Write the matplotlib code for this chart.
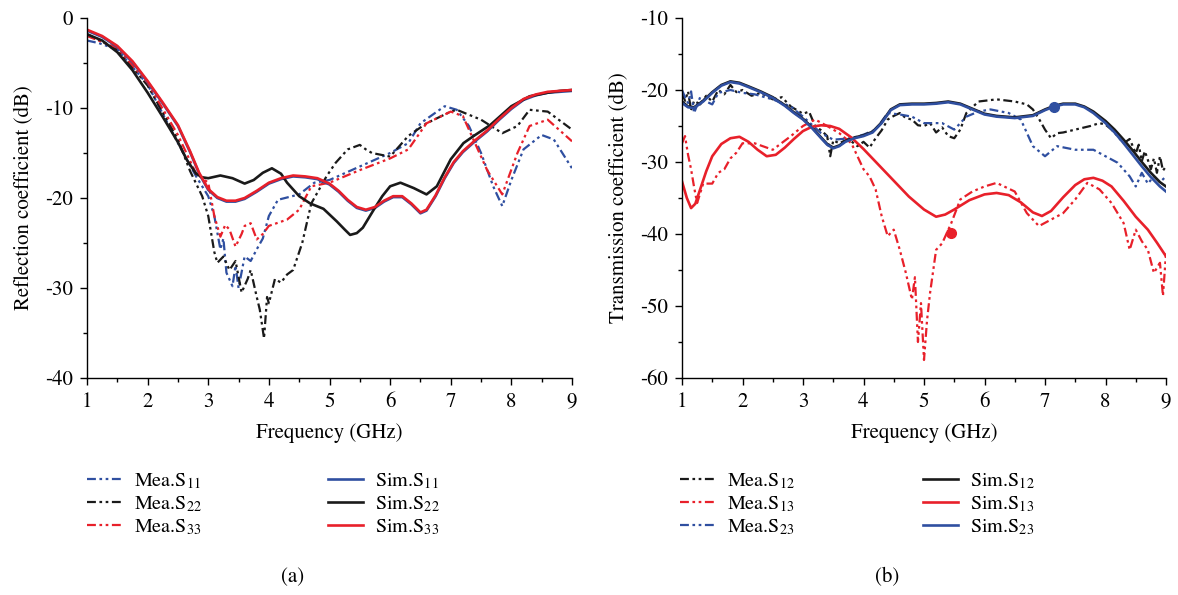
import matplotlib
matplotlib.use("Agg")
import matplotlib.pyplot as plt
from matplotlib.ticker import MultipleLocator

plt.rcParams['font.family'] = ['STIXGeneral', 'DejaVu Serif']
plt.rcParams['mathtext.fontset'] = 'stix'
plt.rcParams['axes.unicode_minus'] = False

BLUE = '#2f4fa0'
BLACK = '#1a1a1a'
RED = '#e8202a'

# ---------------- (a) reflection ----------------
sim33_x = [1.0, 1.25, 1.5, 1.75, 2.0, 2.25, 2.5, 2.7, 2.85, 3.0, 3.15, 3.3, 3.45, 3.6, 3.8, 4.0, 4.2, 4.4, 4.6, 4.8, 5.0, 5.15, 5.3, 5.45, 5.6, 5.75, 5.9, 6.05, 6.2, 6.35, 6.5, 6.6, 6.75, 6.9, 7.05, 7.2, 7.4, 7.6, 7.8, 8.0, 8.2, 8.4, 8.6, 8.8, 9.0]
sim33_y = [-1.3, -2.0, -3.1, -4.8, -7.0, -9.4, -11.9, -14.8, -17.2, -19.0, -19.9, -20.3, -20.3, -20.0, -19.2, -18.3, -17.8, -17.5, -17.6, -17.8, -18.4, -19.2, -20.2, -21.0, -21.3, -21.0, -20.3, -19.8, -19.8, -20.6, -21.6, -21.3, -19.7, -17.7, -16.0, -14.8, -13.6, -12.5, -11.2, -10.0, -9.0, -8.5, -8.2, -8.1, -8.0]
sim11_x = sim33_x
sim11_y = [-1.4, -2.1, -3.2, -4.9, -7.1, -9.5, -12.0, -14.9, -17.3, -19.1, -20.0, -20.4, -20.4, -20.1, -19.3, -18.4, -17.9, -17.6, -17.7, -17.9, -18.5, -19.3, -20.3, -21.1, -21.4, -21.1, -20.4, -19.9, -19.9, -20.7, -21.7, -21.4, -19.8, -17.8, -16.1, -14.9, -13.7, -12.6, -11.3, -10.1, -9.1, -8.6, -8.3, -8.2, -8.1]

sim22_x = [1.0, 1.25, 1.5, 1.75, 2.0, 2.25, 2.5, 2.65, 2.8, 2.9, 3.0, 3.2, 3.4, 3.6, 3.75, 3.9, 4.05, 4.2, 4.3, 4.5, 4.68, 4.9, 5.12, 5.25, 5.34, 5.45, 5.55, 5.73, 5.87, 6.0, 6.17, 6.39, 6.6, 6.77, 6.9, 7.0, 7.21, 7.38, 7.65, 8.0, 8.3, 8.6, 8.8, 9.0]
sim22_y = [-1.8, -2.5, -3.8, -5.8, -8.3, -11.0, -13.8, -15.8, -17.3, -17.7, -17.8, -17.5, -17.8, -18.4, -18.0, -17.2, -16.7, -17.3, -18.3, -19.8, -20.6, -21.2, -22.6, -23.5, -24.1, -23.9, -23.3, -21.3, -19.8, -18.7, -18.3, -18.9, -19.6, -18.7, -17.0, -15.7, -13.9, -13.1, -11.9, -9.8, -8.7, -8.3, -8.1, -8.0]

mea11_x = [1, 1.2, 1.5, 2, 2.5, 2.8, 3, 3.1, 3.2, 3.25, 3.3, 3.4, 3.45, 3.5, 3.6, 3.7, 3.8, 3.9, 4, 4.15, 4.5, 4.75, 5, 5.5, 6, 6.3, 6.5, 6.9, 7.1, 7.3, 7.5, 7.7, 7.85, 8, 8.2, 8.5, 8.7, 9]
mea11_y = [-2.5, -2.8, -3.5, -7.4, -13.9, -17.6, -19.8, -22.0, -25.7, -24.5, -28.3, -29.8, -27.5, -30.0, -26.5, -27.0, -25.7, -24.5, -22.0, -20.2, -19.6, -18.3, -18.0, -16.5, -15.0, -13.9, -11.7, -9.8, -10.2, -12.0, -15.0, -18.7, -20.9, -18.0, -14.6, -13.0, -13.5, -16.7]

mea22_x = [1, 1.5, 2, 2.5, 2.7, 2.9, 3.0, 3.1, 3.15, 3.25, 3.35, 3.45, 3.55, 3.65, 3.7, 3.8, 3.85, 3.92, 3.97, 4.0, 4.1, 4.2, 4.3, 4.4, 4.55, 4.7, 4.95, 5.1, 5.3, 5.5, 5.6, 5.7, 6.0, 6.3, 6.6, 7.0, 7.1, 7.5, 7.85, 8.1, 8.3, 8.6, 9]
mea22_y = [-1.8, -3.5, -7.5, -13.5, -17.0, -19.8, -22.0, -26.0, -27.2, -26.5, -28.0, -27.0, -30.5, -29.0, -28.0, -31.0, -32.4, -35.6, -31.0, -31.7, -29.0, -29.4, -28.5, -28.0, -25.0, -20.6, -17.6, -16.1, -14.6, -14.1, -14.6, -15.0, -15.4, -13.1, -11.7, -10.4, -10.2, -11.3, -12.8, -12.0, -10.2, -10.4, -12.4]

mea33_x = [1, 1.5, 2, 2.5, 2.8, 3.0, 3.1, 3.2, 3.28, 3.35, 3.45, 3.55, 3.6, 3.7, 3.8, 3.9, 4.0, 4.3, 4.5, 4.7, 5.0, 5.5, 6.0, 6.3, 6.6, 7.0, 7.2, 7.4, 7.6, 7.85, 8.1, 8.3, 8.6, 9]
mea33_y = [-2.0, -3.3, -7.2, -13.0, -17.3, -18.3, -22.0, -24.3, -23.0, -23.5, -25.4, -24.0, -23.1, -22.8, -24.6, -24.0, -23.1, -22.4, -21.3, -18.7, -18.3, -16.9, -15.6, -14.6, -11.7, -10.4, -10.9, -13.9, -16.9, -19.6, -15.0, -12.0, -11.3, -13.7]

# ---------------- (b) transmission ----------------
sim23_x = [1.0, 1.1, 1.2, 1.35, 1.5, 1.65, 1.8, 1.95, 2.1, 2.3, 2.5, 2.7, 2.85, 3.0, 3.15, 3.3, 3.4, 3.5, 3.6, 3.7, 3.85, 4.0, 4.15, 4.3, 4.45, 4.6, 4.8, 5.0, 5.2, 5.4, 5.6, 5.8, 6.0, 6.2, 6.5, 6.8, 7.0, 7.15, 7.3, 7.5, 7.65, 7.8, 8.0, 8.15, 8.3, 8.45, 8.6, 8.75, 8.9, 9.0]
sim23_y = [-21.8, -22.4, -22.5, -21.6, -20.4, -19.4, -18.9, -19.1, -19.6, -20.3, -21.1, -22.2, -23.2, -24.1, -25.3, -26.7, -27.6, -28.1, -27.8, -27.2, -26.7, -26.4, -25.9, -24.6, -22.8, -22.1, -22.0, -22.0, -21.9, -21.7, -22.0, -22.7, -23.4, -23.7, -23.9, -23.6, -22.8, -22.3, -22.0, -22.0, -22.4, -23.2, -24.6, -25.9, -27.4, -29.0, -30.6, -32.1, -33.4, -34.1]
sim12_x = sim23_x
sim12_y = [-21.6, -22.3, -22.4, -21.5, -20.3, -19.3, -18.8, -19.0, -19.5, -20.2, -21.0, -22.1, -23.1, -24.0, -25.2, -26.6, -27.5, -28.0, -27.7, -27.1, -26.6, -26.3, -25.8, -24.5, -22.7, -22.0, -21.9, -21.9, -21.8, -21.6, -21.9, -22.6, -23.3, -23.6, -23.8, -23.5, -22.7, -22.2, -21.9, -21.9, -22.3, -23.0, -24.3, -25.5, -26.9, -28.4, -30.0, -31.5, -32.8, -33.4]

sim13_x = [1.0, 1.08, 1.15, 1.22, 1.3, 1.4, 1.5, 1.65, 1.8, 1.95, 2.1, 2.25, 2.4, 2.55, 2.7, 2.85, 3.0, 3.15, 3.3, 3.45, 3.6, 3.8, 4.0, 4.25, 4.5, 4.75, 5.0, 5.2, 5.35, 5.5, 5.75, 6.0, 6.2, 6.4, 6.6, 6.8, 6.95, 7.1, 7.3, 7.5, 7.65, 7.8, 7.95, 8.1, 8.3, 8.5, 8.7, 8.85, 9.0]
sim13_y = [-32.7, -35.0, -36.4, -35.8, -33.8, -31.3, -29.2, -27.5, -26.7, -26.5, -27.2, -28.3, -29.2, -29.0, -28.0, -26.8, -25.7, -25.1, -24.9, -25.0, -25.4, -26.6, -28.2, -30.4, -32.6, -34.8, -36.6, -37.6, -37.3, -36.6, -35.3, -34.5, -34.3, -34.6, -35.6, -37.0, -37.5, -36.8, -34.9, -33.2, -32.4, -32.2, -32.6, -33.4, -35.4, -37.6, -39.4, -41.2, -43.1]

mea12_x = [1, 1.05, 1.1, 1.15, 1.2, 1.3, 1.4, 1.5, 1.6, 1.7, 1.8, 1.9, 2.0, 2.15, 2.3, 2.5, 2.65, 2.8, 3.0, 3.1, 3.2, 3.3, 3.4, 3.45, 3.5, 3.6, 3.75, 3.9, 4.0, 4.1, 4.2, 4.3, 4.4, 4.5, 4.6, 4.7, 4.8, 4.9, 5.0, 5.1, 5.2, 5.3, 5.4, 5.5, 5.6, 5.7, 5.8, 5.9, 6.2, 6.5, 6.7, 6.8, 6.9, 7.0, 7.1, 7.2, 7.3, 7.45, 7.6, 7.75, 7.9, 8.0, 8.1, 8.2, 8.3, 8.4, 8.5, 8.55, 8.6, 8.65, 8.7, 8.75, 8.8, 8.85, 8.9, 8.95, 9]
mea12_y = [-20.4, -21.5, -20.2, -22.8, -21.5, -22.0, -20.8, -21.6, -20.0, -20.6, -19.3, -20.3, -20.0, -20.8, -20.4, -21.3, -21.0, -22.3, -23.3, -23.0, -25.0, -25.6, -26.4, -29.2, -27.0, -27.4, -26.8, -27.8, -27.2, -28.0, -26.7, -25.6, -24.1, -23.6, -23.2, -23.9, -24.1, -24.9, -25.0, -24.6, -25.9, -25.2, -26.4, -26.7, -25.5, -23.2, -22.4, -21.6, -21.3, -21.6, -22.0, -22.7, -24.0, -25.5, -26.7, -26.0, -25.9, -25.6, -25.3, -25.0, -24.6, -24.8, -25.5, -26.4, -27.4, -26.8, -28.8, -27.6, -29.9, -28.5, -29.7, -31.0, -29.5, -31.5, -29.2, -31.2, -30.6]

mea13_x = [1, 1.05, 1.1, 1.15, 1.2, 1.25, 1.35, 1.5, 1.6, 1.7, 1.8, 1.9, 2.0, 2.2, 2.5, 2.8, 3.0, 3.2, 3.4, 3.6, 3.8, 4.0, 4.1, 4.2, 4.3, 4.4, 4.5, 4.6, 4.7, 4.8, 4.85, 4.9, 4.95, 5.0, 5.05, 5.1, 5.2, 5.3, 5.45, 5.6, 5.8, 6.0, 6.2, 6.5, 6.7, 6.9, 7.1, 7.3, 7.5, 7.7, 7.9, 8.1, 8.3, 8.4, 8.5, 8.6, 8.7, 8.8, 8.9, 8.95, 9]
mea13_y = [-27.4, -26.4, -29.0, -31.0, -33.5, -35.7, -33.0, -33.0, -31.5, -31.0, -29.5, -28.7, -27.4, -27.4, -28.3, -26.4, -25.0, -24.1, -25.0, -26.0, -27.4, -31.0, -32.0, -33.8, -37.5, -40.3, -39.4, -42.2, -45.4, -49.1, -46.0, -55.0, -49.6, -57.5, -52.0, -48.2, -42.2, -41.3, -38.5, -35.2, -34.1, -33.4, -32.9, -34.1, -37.1, -38.9, -38.0, -37.1, -35.2, -32.9, -33.8, -35.7, -38.5, -42.2, -39.4, -41.0, -42.2, -45.4, -44.0, -48.6, -42.7]

mea23_x = [1, 1.05, 1.1, 1.15, 1.2, 1.3, 1.4, 1.5, 1.6, 1.8, 2.0, 2.2, 2.5, 2.8, 3.0, 3.3, 3.5, 3.8, 4.0, 4.2, 4.4, 4.6, 4.8, 5.0, 5.3, 5.5, 5.7, 5.9, 6.1, 6.4, 6.6, 6.8, 7.0, 7.2, 7.5, 7.8, 8.0, 8.2, 8.4, 8.5, 8.6, 8.7, 8.8, 8.9, 9]
mea23_y = [-20.0, -21.0, -21.8, -20.2, -23.2, -21.0, -21.6, -22.0, -20.4, -20.0, -20.4, -20.6, -21.3, -22.3, -23.7, -26.0, -26.9, -26.7, -26.2, -25.5, -23.2, -23.4, -23.7, -24.6, -24.6, -25.5, -23.7, -23.0, -22.7, -23.2, -24.1, -27.8, -29.2, -27.8, -28.3, -28.3, -29.2, -30.1, -32.0, -33.4, -31.5, -33.0, -32.0, -32.8, -32.0]

marker_x = [7.15, 5.45]
marker_y = [-22.3, -39.8]

xticks = [1, 2, 3, 4, 5, 6, 7, 8, 9]
yticks_a = [0, -10, -20, -30, -40]
yticks_b = [-10, -20, -30, -40, -50, -60]

MEA = (0, (4, 1.6, 1.2, 1.6, 1.2, 1.6))
FS = 15
LFS = 14.5

fig = plt.figure(figsize=(11.78, 5.95), dpi=100)
axa = fig.add_axes([87 / 1178, 1 - 378 / 595, 485 / 1178, 360 / 595])
axb = fig.add_axes([682 / 1178, 1 - 378 / 595, 484 / 1178, 360 / 595])


def style(ax, ylim, yticks):
    ax.set_xlim(1, 9)
    ax.set_ylim(*ylim)
    ax.set_xticks(xticks)
    ax.set_yticks(yticks)
    ax.xaxis.set_minor_locator(MultipleLocator(0.5))
    ax.yaxis.set_minor_locator(MultipleLocator(5))
    for s in ['top', 'right']:
        ax.spines[s].set_visible(False)
    for s in ['left', 'bottom']:
        ax.spines[s].set_linewidth(1.0)
    ax.tick_params(which='major', direction='out', length=5, width=1, labelsize=FS)
    ax.tick_params(which='minor', direction='out', length=3, width=1)
    ax.tick_params(axis='x', pad=5)
    ax.tick_params(axis='y', pad=5)
    ax.set_xlabel('Frequency (GHz)', fontsize=FS, labelpad=8)


lw = 1.6
slw = 1.9
h = []
h.append(axa.plot(mea11_x, mea11_y, color=BLUE, ls=MEA, lw=lw, label=r'Mea.S$_{11}$')[0])
h.append(axa.plot(mea22_x, mea22_y, color=BLACK, ls=MEA, lw=lw, label=r'Mea.S$_{22}$')[0])
h.append(axa.plot(mea33_x, mea33_y, color=RED, ls=MEA, lw=lw, label=r'Mea.S$_{33}$')[0])
h.append(axa.plot(sim11_x, sim11_y, color=BLUE, lw=slw, label=r'Sim.S$_{11}$')[0])
h.append(axa.plot(sim22_x, sim22_y, color=BLACK, lw=slw, label=r'Sim.S$_{22}$')[0])
h.append(axa.plot(sim33_x, sim33_y, color=RED, lw=slw, label=r'Sim.S$_{33}$')[0])
style(axa, (-40, 0), yticks_a)
axa.set_ylabel('Reflection coefficient (dB)', fontsize=FS, labelpad=8)

g = []
g.append(axb.plot(mea12_x, mea12_y, color=BLACK, ls=MEA, lw=lw, label=r'Mea.S$_{12}$')[0])
g.append(axb.plot(mea13_x, mea13_y, color=RED, ls=MEA, lw=lw, label=r'Mea.S$_{13}$')[0])
g.append(axb.plot(mea23_x, mea23_y, color=BLUE, ls=MEA, lw=lw, label=r'Mea.S$_{23}$')[0])
g.append(axb.plot(sim12_x, sim12_y, color=BLACK, lw=slw, label=r'Sim.S$_{12}$')[0])
g.append(axb.plot(sim13_x, sim13_y, color=RED, lw=slw, label=r'Sim.S$_{13}$')[0])
g.append(axb.plot(sim23_x, sim23_y, color=BLUE, lw=slw, label=r'Sim.S$_{23}$')[0])
axb.plot(marker_x[:1], marker_y[:1], 'o', color=BLUE, ms=7)
axb.plot(marker_x[1:], marker_y[1:], 'o', color=RED, ms=7)
style(axb, (-60, -10), yticks_b)
axb.set_ylabel('Transmission coefficient (dB)', fontsize=FS, labelpad=8)

LEG_Y = 1 - 504 / 595


def add_leg(handles, xpix):
    leg = fig.legend(handles=handles, loc='center left', bbox_to_anchor=(xpix / 1178, LEG_Y),
                     bbox_transform=fig.transFigure, frameon=False, fontsize=LFS,
                     handlelength=1.75, handletextpad=0.6, labelspacing=0.15,
                     borderpad=0, borderaxespad=0)
    return leg


add_leg(h[:3], 87)
add_leg(h[3:], 328)
add_leg(g[:3], 680)
add_leg(g[3:], 923)

fig.text(293 / 1178, 1 - 577 / 595, '(a)', fontsize=FS, ha='center', va='center')
fig.text(887 / 1178, 1 - 577 / 595, '(b)', fontsize=FS, ha='center', va='center')

fig.savefig('out.png', dpi=100)
